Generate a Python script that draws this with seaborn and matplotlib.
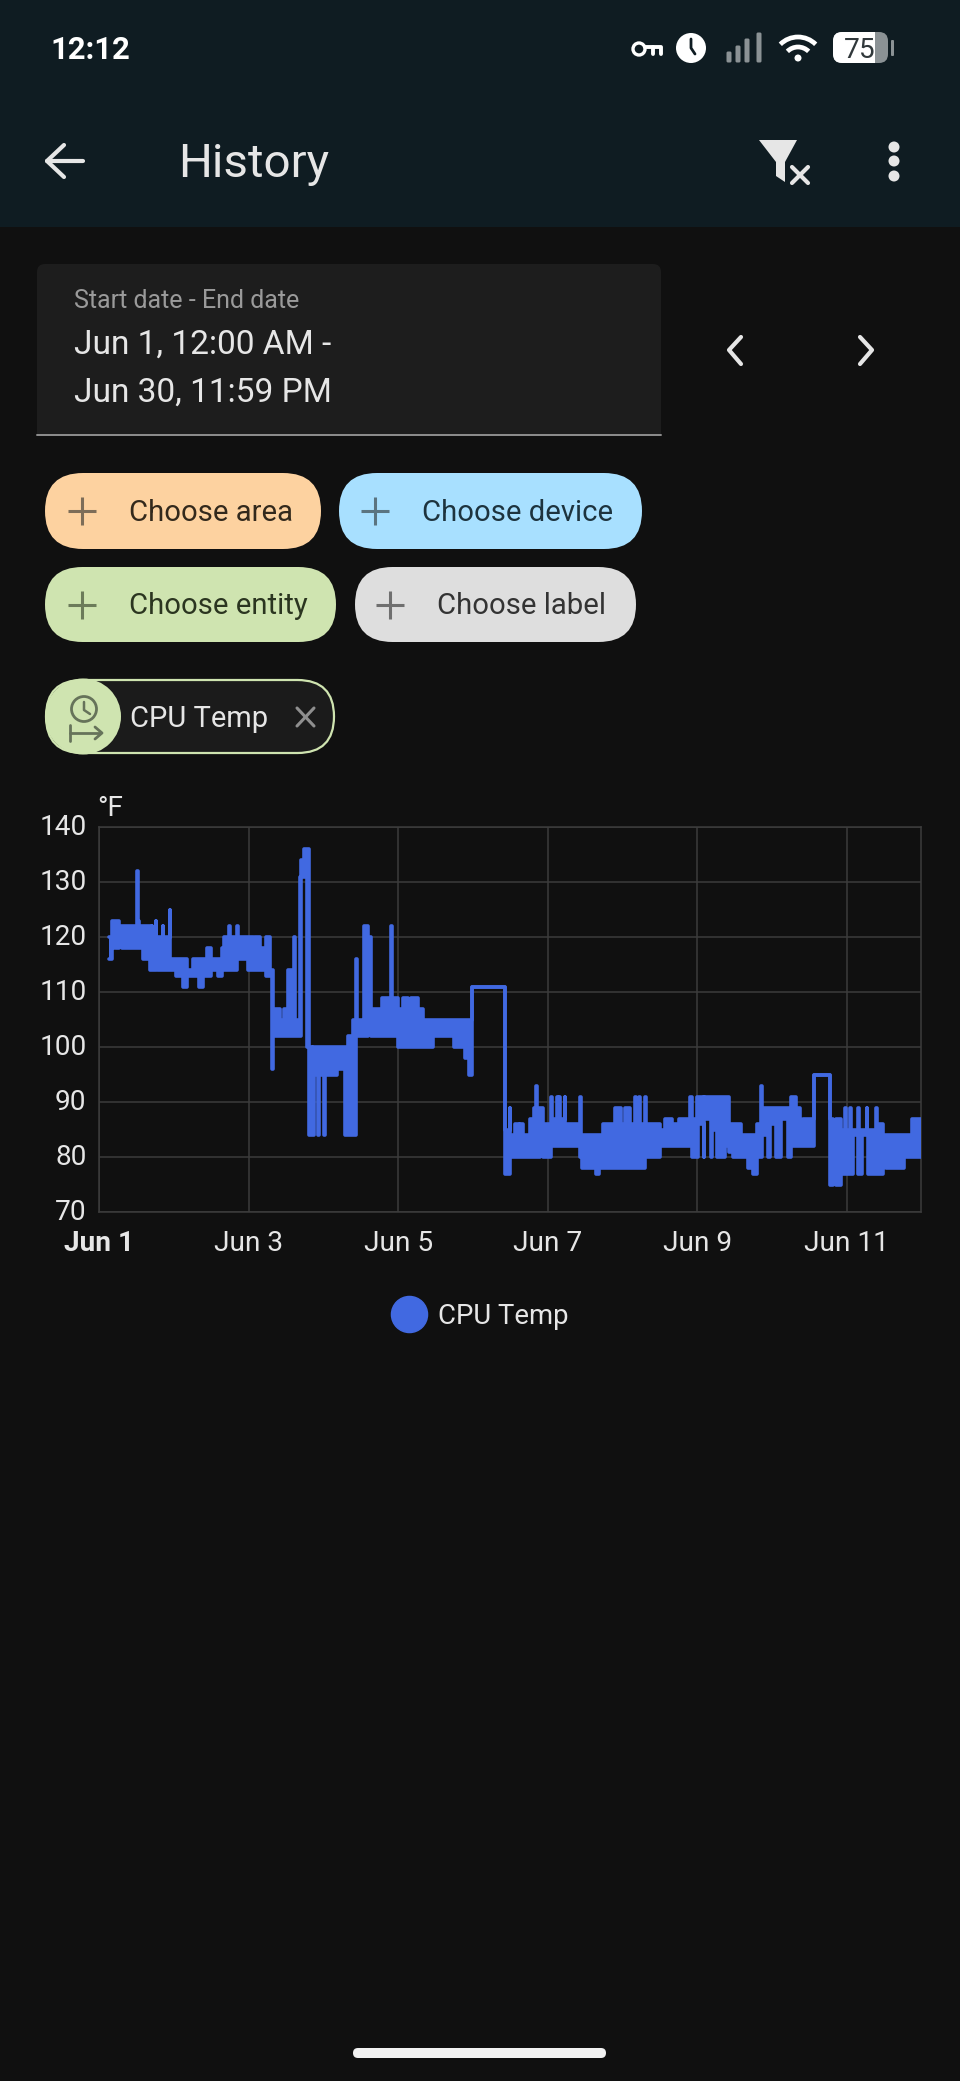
import matplotlib
matplotlib.use('Agg')
import matplotlib.pyplot as plt
from matplotlib.lines import Line2D
from matplotlib.patches import Arc, Circle, FancyBboxPatch, Polygon, Rectangle
from matplotlib.transforms import ScaledTranslation
import pandas as pd
import seaborn as sns

# Temperature band: days since Jun 1, lowest and highest reading
band_day = [0.13, 0.17, 0.20, 0.23, 0.26, 0.30, 0.505, 0.515, 0.535, 0.59,
            0.68, 0.70, 0.705, 0.76, 0.765, 0.79, 0.85, 0.855, 0.94, 0.95,
            1.03, 1.12, 1.17, 1.25, 1.34, 1.39, 1.445, 1.49, 1.59, 1.64,
            1.67, 1.73, 1.75, 1.84, 1.86, 1.99, 2.05, 2.08, 2.15, 2.23,
            2.28, 2.315, 2.325, 2.42, 2.47, 2.53, 2.60, 2.62, 2.68, 2.70,
            2.74, 2.785, 2.80, 2.84, 2.86, 2.87, 2.93, 2.935, 3.00, 3.02,
            3.18, 3.29, 3.33, 3.39, 3.435, 3.445, 3.51, 3.54, 3.60, 3.64,
            3.78, 3.905, 3.915, 3.99, 4.07, 4.13, 4.165, 4.27, 4.33, 4.47,
            4.74, 4.89, 4.94, 4.99, 5.43, 5.49, 5.50, 5.56, 5.61, 5.63,
            5.67, 5.76, 5.81, 5.845, 5.855, 5.90, 5.94, 6.04, 6.06, 6.125,
            6.135, 6.15, 6.16, 6.225, 6.235, 6.43, 6.44, 6.46, 6.65, 6.69,
            6.74, 6.90, 6.98, 7.03, 7.10, 7.165, 7.175, 7.225, 7.235, 7.30,
            7.32, 7.50, 7.57, 7.66, 7.75, 7.91, 7.93, 8.00, 8.015, 8.09,
            8.095, 8.19, 8.195, 8.27, 8.37, 8.43, 8.48, 8.58, 8.68, 8.75,
            8.80, 8.855, 8.865, 8.95, 8.97, 9.06, 9.12, 9.22, 9.26, 9.32,
            9.38, 9.42, 9.56, 9.78, 9.82, 9.86, 9.93, 9.98, 9.99, 10.05,
            10.06, 10.08, 10.155, 10.165, 10.20, 10.265, 10.275, 10.29, 10.39, 10.40,
            10.48, 10.53, 10.76, 10.88, 10.99]
band_low = [116, 118, 120, 118, 120, 118, 118, 118, 118, 116,
            114, 114, 114, 116, 116, 114, 114, 114, 114, 114,
            113, 111, 113, 113, 111, 113, 113, 114, 113, 114,
            114, 114, 114, 116, 116, 114, 114, 114, 114, 113,
            113, 96, 102, 102, 102, 102, 102, 102, 102, 131,
            131, 100, 84, 84, 84, 95, 84, 95, 84, 95,
            96, 84, 84, 84, 102, 102, 102, 102, 104, 102,
            102, 102, 102, 100, 100, 100, 100, 100, 100, 102,
            100, 98, 95, 111, 77, 80, 80, 80, 80, 80,
            80, 80, 80, 80, 80, 82, 80, 82, 82, 82,
            82, 82, 82, 82, 82, 80, 80, 78, 77, 78,
            78, 78, 78, 78, 78, 78, 78, 78, 78, 80,
            80, 82, 82, 82, 82, 82, 80, 80, 86, 80,
            87, 80, 85, 80, 82, 81, 80, 80, 78, 77,
            80, 80, 84, 80, 86, 80, 87, 80, 82, 82,
            82, 82, 95, 75, 77, 75, 77, 77, 77, 77,
            77, 84, 77, 77, 84, 84, 84, 77, 77, 77,
            80, 78, 80, 80, 80]
band_high = [120, 123, 123, 123, 122, 122, 132, 123, 122, 122,
             120, 122, 120, 123, 120, 120, 122, 120, 125, 116,
             116, 116, 114, 116, 116, 116, 118, 116, 116, 118,
             120, 122, 120, 122, 120, 120, 118, 120, 118, 120,
             114, 114, 107, 105, 107, 114, 120, 105, 131, 134,
             136, 136, 100, 95, 100, 100, 100, 100, 100, 100,
             100, 100, 102, 105, 116, 105, 104, 122, 120, 107,
             109, 122, 109, 107, 109, 107, 109, 107, 105, 105,
             105, 105, 105, 111, 85, 89, 84, 86, 84, 86,
             84, 87, 89, 93, 89, 89, 86, 91, 87, 91,
             87, 91, 87, 91, 86, 91, 84, 84, 84, 84,
             86, 89, 86, 89, 86, 91, 86, 91, 86, 91,
             86, 85, 87, 86, 87, 91, 87, 91, 91, 87,
             91, 91, 91, 91, 91, 86, 86, 84, 84, 84,
             86, 93, 89, 89, 89, 89, 89, 89, 91, 89,
             86, 87, 95, 87, 85, 87, 85, 89, 85, 89,
             85, 85, 89, 85, 85, 89, 85, 85, 89, 86,
             84, 84, 84, 87, 87]

y_ticks = [70, 80, 90, 100, 110, 120, 130, 140]
x_ticks = [0, 2, 4, 6, 8, 10]
x_labels = ['Jun 1', 'Jun 3', 'Jun 5', 'Jun 7', 'Jun 9', 'Jun 11']

BG = '#101010'
HEADER = '#0f1c22'
BLUE = '#4169e1'
GRID = '#3c3c3c'
TXT = '#e6e6e6'
FONT = 'Roboto'
W, H = 960, 2081

sns.set_theme(style='dark', rc={'figure.facecolor': BG, 'axes.facecolor': BG})
plt.rcParams['font.family'] = [FONT, 'DejaVu Sans']


def px(size):
    # font size given in screen pixels
    return size * 0.72


def pill(ax, x0, y0, x1, y1, face, edge='none', lw=0, radius=None):
    r = radius if radius is not None else (y1 - y0) / 2
    ax.add_patch(FancyBboxPatch((x0 + r, y0 + r), x1 - x0 - 2 * r, y1 - y0 - 2 * r,
                                boxstyle=f'round,pad={r},rounding_size={r}', fc=face, ec=edge, lw=lw))


def chip(ax, x0, y0, x1, y1, face, label, plus_x, text_x, txt_color, plus_color):
    pill(ax, x0, y0, x1, y1, face)
    cy = (y0 + y1) / 2
    ax.plot([plus_x - 14, plus_x + 14], [cy, cy], color=plus_color, lw=2.2, solid_capstyle='butt')
    ax.plot([plus_x, plus_x], [cy - 14, cy + 14], color=plus_color, lw=2.2, solid_capstyle='butt')
    ax.text(text_x, cy - 1, label, color=txt_color, fontsize=px(29.3), va='center_baseline', ha='left')


fig = plt.figure(figsize=(W / 100, H / 100), dpi=100)
fig.patch.set_facecolor(BG)

# Screen furniture around the chart, in pixel coordinates
ui = fig.add_axes([0, 0, 1, 1])
ui.set_xlim(0, W)
ui.set_ylim(H, 0)
ui.axis('off')

ui.add_patch(Rectangle((0, 0), W, 227, fc=HEADER, ec='none'))
ui.text(50, 47, '12:12', color='white', fontsize=px(31), fontweight='bold', va='center_baseline')
ui.text(178, 160, 'History', color=TXT, fontsize=px(47.5), va='center_baseline')

# back arrow
ui.plot([47, 83], [161, 161], color=TXT, lw=3, solid_capstyle='round')
ui.plot([64, 47, 64], [145, 161, 177], color=TXT, lw=3, solid_capstyle='round')

# filter icon
ui.add_patch(Polygon([(759, 140), (797, 140), (785, 162), (785, 182), (776, 176), (776, 162)], fc=TXT, ec='none'))
ui.plot([792, 808], [167, 183], color=TXT, lw=3)
ui.plot([808, 792], [167, 183], color=TXT, lw=3)
for dot_y in [147, 161, 176]:
    ui.add_patch(Circle((894, dot_y), 5.5, fc=TXT, ec='none'))

# status bar icons
ui.add_patch(Circle((639, 49), 6, fc='none', ec='white', lw=2.4))
ui.plot([645, 661, 661], [47, 47, 54], color='white', lw=2.8)
ui.plot([653, 653], [47, 54], color='white', lw=2.8)
ui.add_patch(Circle((691, 48), 15, fc='white', ec='none'))
ui.plot([691, 691, 695], [39, 48, 54], color=HEADER, lw=2)
for bar_x, bar_top, bar_color in zip([728, 737, 746, 758], [53, 47, 40, 34], ['#8b9295'] * 4):
    ui.add_patch(FancyBboxPatch((bar_x, bar_top), 2, 61 - bar_top, boxstyle='round,pad=1.5', fc=bar_color, ec='none'))
for arc_size in [50, 30]:
    ui.add_patch(Arc((798, 62), arc_size, arc_size, theta1=225, theta2=315, color='white', lw=3.4))
ui.add_patch(Circle((798, 58), 3.5, fc='white', ec='none'))
pill(ui, 833, 32, 888, 63, '#8b9295', radius=9)
pill(ui, 833, 32, 873, 63, 'white', radius=9)
ui.add_patch(Rectangle((863, 32), 12, 31, fc='white', ec='none'))
ui.add_patch(FancyBboxPatch((892, 41), 1, 14, boxstyle='round,pad=1', fc='#8b9295', ec='none'))
ui.text(860, 48, '75', color='#30383b', fontsize=px(28), ha='center', va='center_baseline')

# date range field
pill(ui, 37, 264, 661, 436, '#1d1d1d', radius=8)
ui.add_patch(Rectangle((37, 428), 624, 8, fc='#1d1d1d', ec='none'))
ui.plot([37, 661], [435, 435], color='#8f8f8f', lw=1.4)
ui.text(74, 298, 'Start date - End date', color='#9a9a9a', fontsize=px(25), va='center_baseline')
ui.text(74, 341.5, 'Jun 1, 12:00 AM -', color=TXT, fontsize=px(33.5), va='center_baseline')
ui.text(74, 389.5, 'Jun 30, 11:59 PM', color=TXT, fontsize=px(33.5), va='center_baseline')
ui.plot([741, 729, 741], [337, 350, 364], color=TXT, lw=3)
ui.plot([860, 872, 860], [337, 350, 364], color=TXT, lw=3)

# filter chips
chip(ui, 45, 473, 321, 549, '#fdd2a0', 'Choose area', 82, 129, '#33291c', '#7d6d58')
chip(ui, 339, 473, 642, 549, '#a8e0ff', 'Choose device', 375, 422, '#1d333e', '#5b7480')
chip(ui, 45, 567, 336, 642, '#cfe4b0', 'Choose entity', 82, 129, '#2b3520', '#6c7b5a')
chip(ui, 355, 567, 636, 642, '#dedede', 'Choose label', 390, 437, '#333333', '#6f6f6f')

# selected entity chip
pill(ui, 46, 680, 334, 753, '#1b1b1b', edge='#cfe4b0', lw=1.6)
ui.add_patch(Circle((83, 716.5), 38, fc='#cfe4b0', ec='none'))
ui.add_patch(Circle((84, 709), 12.5, fc='none', ec='#66735a', lw=2))
ui.plot([84, 84, 90], [702, 710, 714], color='#66735a', lw=1.8)
ui.plot([70, 100], [733, 733], color='#66735a', lw=2)
ui.plot([70, 70], [725, 741], color='#66735a', lw=2)
ui.plot([95, 102, 95], [727, 733, 739], color='#66735a', lw=2)
ui.text(130, 716, 'CPU Temp', color=TXT, fontsize=px(29), va='center_baseline')
ui.plot([297, 314], [708, 726], color='#8f8f8f', lw=2.2)
ui.plot([314, 297], [708, 726], color='#8f8f8f', lw=2.2)

# home indicator
pill(ui, 353, 2048, 606, 2058, '#f2f2f2')

# The chart itself
left, right, top, bottom = 99.3, 920.7, 827.3, 1212.3
ax = fig.add_axes([left / W, 1 - bottom / H, (right - left) / W, (bottom - top) / H])
ax.set_facecolor('none')

band_df = pd.DataFrame({
    'day': band_day + band_day,
    'temp': band_low + band_high,
    'edge': ['low'] * len(band_day) + ['high'] * len(band_day),
})
ax.fill_between(band_day, band_low, band_high, step='post', color=BLUE, lw=0, zorder=3)
sns.lineplot(data=band_df, x='day', y='temp', units='edge', estimator=None, drawstyle='steps-post',
             color=BLUE, lw=2.6, legend=False, ax=ax, zorder=3)

ax.set_xlim(0, 10.99)
ax.set_ylim(70, 140)
ax.set_xticks(x_ticks)
ax.set_xticklabels(x_labels)
ax.set_yticks(y_ticks)
ax.set_xlabel('')
ax.set_ylabel('')
ax.grid(True, color=GRID, lw=1.1)
ax.set_axisbelow(True)
ax.tick_params(axis='both', length=8, width=1.1, color=GRID, labelcolor=TXT, labelsize=px(28))
ax.tick_params(axis='x', pad=5)
ax.tick_params(axis='y', pad=1.2)
ax.get_xticklabels()[0].set_fontweight('bold')
for label in ax.get_yticklabels():
    label.set_transform(label.get_transform() + ScaledTranslation(0, 3 / 100, fig.dpi_scale_trans))
for spine in ax.spines.values():
    spine.set_visible(True)
    spine.set_color(GRID)
    spine.set_linewidth(1.1)

ui.text(97, 806, '°F', color=TXT, fontsize=px(28), va='center_baseline')

handle = Line2D([], [], ls='none', marker='o', ms=26, color=BLUE, label='CPU Temp')
fig.legend(handles=[handle], loc='center', bbox_to_anchor=(480.4 / W, 1 - 1316 / H), frameon=False,
           fontsize=px(27.5), labelcolor=TXT, handletextpad=0.45, handlelength=1.2)

fig.savefig('out.png', dpi=100, facecolor=BG)
